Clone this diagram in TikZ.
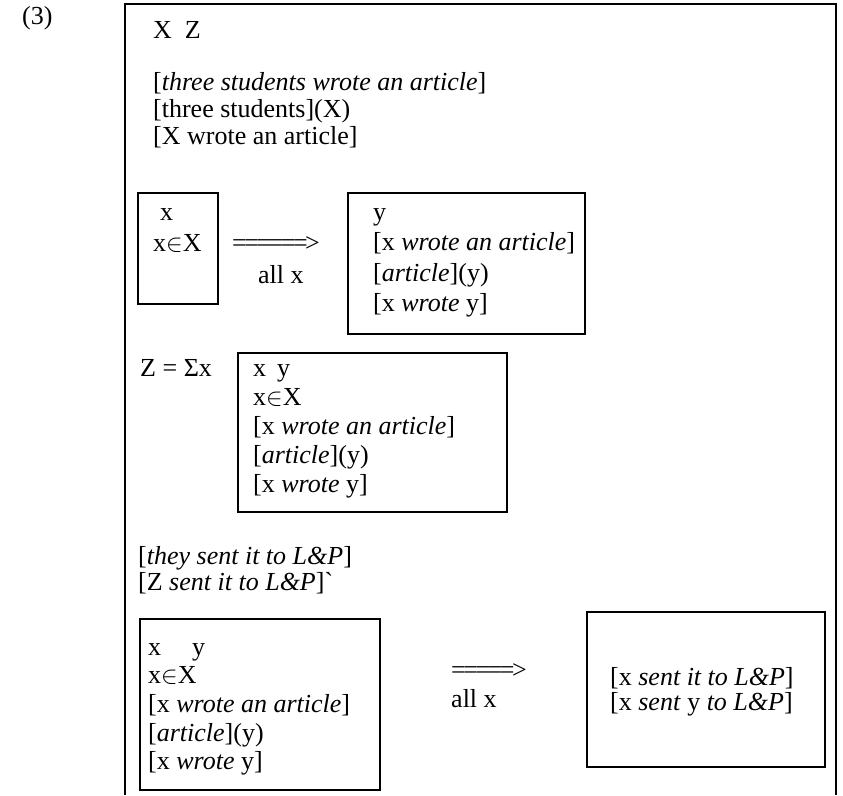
\documentclass[tikz,border=0pt]{standalone}
\usepackage{fontspec}
\setmainfont{Liberation Serif}
\usetikzlibrary{positioning}

\tikzset{
  drsbox/.style={line width=1.3pt},
  frame/.style={line width=1.8pt},
  ln/.style={anchor=base west, inner sep=0pt},
}
% double arrow typed as a row of equals signs
\newcommand{\eqarrow}[1]{\foreach \k in {1,...,#1}{=\kern-2.5pt}>}

\begin{document}
\begin{tikzpicture}[x=1pt, y=-1pt, every node/.style={font=\fontsize{26}{29}\selectfont}]
  \useasboundingbox (0,0) rectangle (843,795);

  % example number
  \node[ln] (num) at (22,24) {(3)};

  % Outer frame, open at the bottom
  \draw[frame] (125,795) -- (125,4) -- (836,4) -- (836,795);

  % universe and first sentence
  \node[ln] (univ) at (153,38) {X\hspace{13pt}Z};
  \node[ln] (sent1) at (153,90) {[\textit{three students wrote an article}]};
  \node[ln] (cond1) at (153,117) {[three students](X)};
  \node[ln] (cond2) at (153,144) {[X wrote an article]};

  % duplex condition
  \draw[drsbox] (138,193) rectangle (218,304);
  \node[ln] (resx) at (160,220) {x};
  \node[ln] (resin) at (153,251) {x$\in$X};
  \node[ln] (arr1) at (232,251) {\eqarrow{6}};
  \node[ln] (all1) at (258,283) {all x};
  \draw[drsbox] (348,193) rectangle (585,334);
  \foreach \t [count=\i from 0] in {y, {[x \textit{wrote an article}]}, {[\textit{article}](y)}, {[x \textit{wrote} y]}}
    \node[ln] (scope\i) at (373,220+30.5*\i) {\t};

  % abstraction
  \node[ln] (sum) at (140,376) {Z = Σx};
  \draw[drsbox] (238,353) rectangle (507,512);
  \foreach \t [count=\i from 0] in {{x\hspace{11pt}y}, {x$\in$X}, {[x \textit{wrote an article}]}, {[\textit{article}](y)}, {[x \textit{wrote} y]}}
    \node[ln] (abs\i) at (253,376+29*\i) {\t};

  % second sentence
  \node[ln] (sent2) at (138,564) {[\textit{they sent it to L\&P}]};
  \node[ln] (cond3) at (138,590) {[Z \textit{sent it to L\&P}]\textasciigrave};

  % distributive reading
  \draw[drsbox] (140,619) rectangle (380,790);
  \foreach \t [count=\i from 0] in {{x\hspace{31pt}y}, {x$\in$X}, {[x \textit{wrote an article}]}, {[\textit{article}](y)}, {[x \textit{wrote} y]}}
    \node[ln] (res\i) at (148,655+28.7*\i) {\t};
  \node[ln] (arr2) at (451,678) {\eqarrow{5}};
  \node[ln] (all2) at (451,707) {all x};
  \draw[drsbox] (587,612) rectangle (825,767);
  \node[ln] (sc1) at (610,685) {[x \textit{sent it to L\&P}]};
  \node[ln] (sc2) at (610,710) {[x \textit{sent} y \textit{to L\&P}]};
\end{tikzpicture}
\end{document}
